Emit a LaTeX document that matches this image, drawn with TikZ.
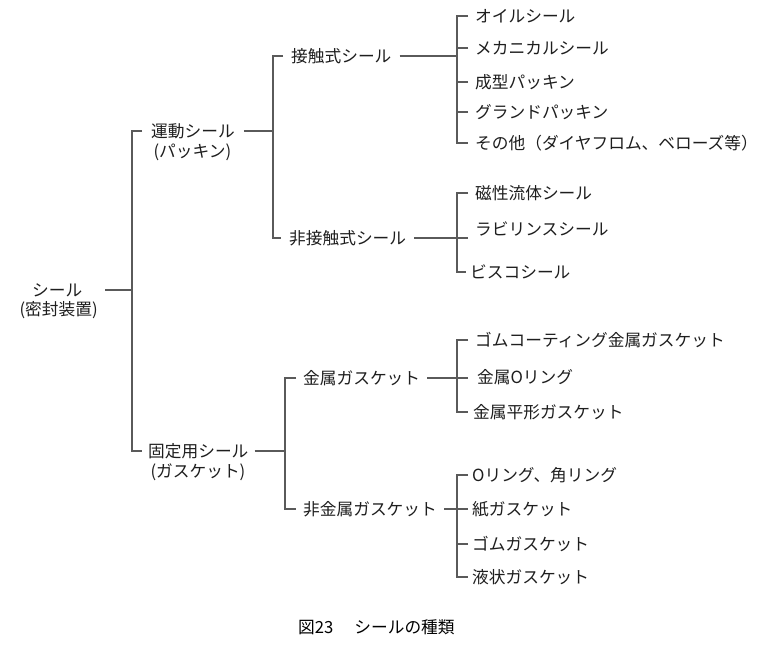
\documentclass[tikz,border=0pt]{standalone}
\usepackage{fontspec}
\newfontfamily\jp{Noto Sans CJK JP}
\newcommand{\lpar}{\makebox[8pt][r]{(}}
\newcommand{\rpar}{\makebox[8pt][l]{)}}
\definecolor{txt}{HTML}{1E1E1E}
\definecolor{ln}{HTML}{5A5A5A}
\begin{document}
\begin{tikzpicture}[x=1pt,y=-1pt,
  base/.style={anchor=west, inner ysep=1pt, text=txt, font=\jp\fontsize{16.7}{20}\selectfont},
  lvone/.style={base, inner xsep=9pt},
  lvtwo/.style={base, inner xsep=8pt},
  leaf/.style={base, inner xsep=7pt},
  leafb/.style={base, inner xsep=4pt},
  bus/.style={draw=ln, line width=1.2pt}]
\useasboundingbox[fill=white] (0,0) rectangle (765,650);
\coordinate (b1) at (132,0);
\coordinate (b2) at (273,0);
\coordinate (b2g) at (285,0);
\coordinate (b3) at (457,0);
% root
\node[base, inner xsep=8pt, text width=80pt, align=center] (root) at (9,290) {シール};
\node[base, inner xsep=8pt, text width=80pt, align=center] (rootsub) at (9,310) {\lpar 密封装置\rpar};
% level 1
\node[lvone] (motion) at (142,131) {運動シール};
\node[lvone] (motionsub) at (142,152) {\lpar パッキン\rpar};
\node[lvone, inner xsep=6pt] (fixed) at (142,451) {固定用シール};
\node[lvone, inner xsep=6pt] (fixedsub) at (142,472) {\lpar ガスケット\rpar};
% level 2
\node[lvtwo] (contact) at (283,56) {接触式シール};
\node[lvtwo] (noncontact) at (281,238) {非接触式シール};
\node[lvtwo, inner xsep=7pt] (metal) at (296,378) {金属ガスケット};
\node[lvtwo, inner xsep=7pt] (nonmetal) at (296,509) {非金属ガスケット};
% leaves: contact
\node[leaf] (oil) at (468,16) {オイルシール};
\node[leaf] (mech) at (468,48) {メカニカルシール};
\node[leaf] (molded) at (468,82) {成型パッキン};
\node[leaf] (gland) at (468,112) {グランドパッキン};
\node[leaf] (other) at (468,143) {その他（ダイヤフロム、ベローズ等）};
% leaves: non-contact
\node[leaf] (mag) at (468,193) {磁性流体シール};
\node[leaf] (lab) at (468,229) {ラビリンスシール};
\node[leafb] (visco) at (466,272) {ビスコシール};
% leaves: metal
\node[leaf] (rub) at (468,340) {ゴムコーティング金属ガスケット};
\node[leaf, inner xsep=9pt] (mor) at (468,377) {金属Oリング};
\node[leaf, inner xsep=5pt] (flat) at (468,412) {金属平形ガスケット};
% leaves: non-metal
\node[leafb] (orng) at (468,475) {Oリング、角リング};
\node[leafb] (paper) at (468,509) {紙ガスケット};
\node[leafb] (rubber) at (468,544) {ゴムガスケット};
\node[leafb] (liquid) at (468,577) {液状ガスケット};
% caption
\node[base, inner sep=0pt, text=black] (cap) at (298,627) {図23\hspace{21pt}シールの種類};
% connectors
\draw[bus] (root.east) -- (root.east -| b1);
\draw[bus] (motion.west) -- (motion.west -| b1) |- (fixed.west);
\draw[bus] (motion.east) -- (motion.east -| b2);
\draw[bus] (contact.west) -- (contact.west -| b2) |- (noncontact.west);
\draw[bus] (fixed.east) -- (fixed.east -| b2g);
\draw[bus] (metal.west) -- (metal.west -| b2g) |- (nonmetal.west);
\draw[bus] (contact.east) -- (contact.east -| b3);
\draw[bus] (oil.west) -- (oil.west -| b3) |- (other.west);
\draw[bus] (mech.west) -- (mech.west -| b3);
\draw[bus] (molded.west) -- (molded.west -| b3);
\draw[bus] (gland.west) -- (gland.west -| b3);
\draw[bus] (mag.west) -- (mag.west -| b3) |- (visco.west);
\draw[bus] (noncontact.east) -- (noncontact.east -| mag.west);
\draw[bus] (rub.west) -- (rub.west -| b3) |- (flat.west);
\draw[bus] (metal.east) -- (metal.east -| rub.west);
\draw[bus] (orng.west) -- (orng.west -| b3) |- (liquid.west);
\draw[bus] (rubber.west) -- (rubber.west -| b3);
\draw[bus] (nonmetal.east) -- (nonmetal.east -| paper.west);
\end{tikzpicture}
\end{document}
